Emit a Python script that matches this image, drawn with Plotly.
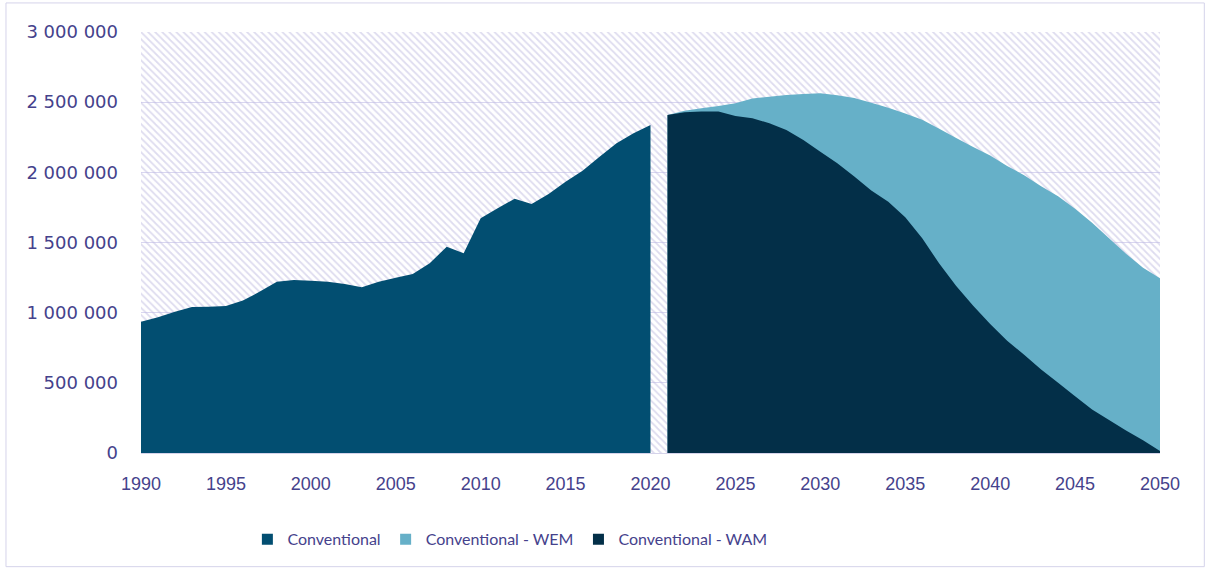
import plotly.graph_objects as go

# ---- data ----
years_hist = list(range(1990, 2021))
conventional = [936000, 967000, 1007000, 1040000, 1043000, 1047000, 1086000, 1150000,
                1221000, 1233000, 1228000, 1221000, 1204000, 1181000, 1221000, 1249000,
                1275000, 1352000, 1470000, 1423000, 1672000, 1744000, 1812000, 1774000,
                1846000, 1933000, 2012000, 2111000, 2207000, 2278000, 2337000]

years_proj = list(range(2021, 2051))
conv_wem = [2409000, 2439000, 2456000, 2473000, 2492000, 2527000, 2539000, 2551000,
            2558000, 2563000, 2550000, 2530000, 2495000, 2460000, 2420000, 2375000,
            2310000, 2245000, 2180000, 2120000, 2045000, 1980000, 1900000, 1830000,
            1740000, 1640000, 1530000, 1420000, 1320000, 1245000]
conv_wam = [2409000, 2428000, 2433000, 2433000, 2402000, 2385000, 2350000, 2302000,
            2230000, 2147000, 2064000, 1970000, 1870000, 1790000, 1680000, 1530000,
            1350000, 1190000, 1050000, 920000, 800000, 700000, 595000, 500000,
            405000, 310000, 235000, 160000, 90000, 15000]

x_ticks = list(range(1990, 2051, 5))
y_ticks = [0, 500000, 1000000, 1500000, 2000000, 2500000, 3000000]
X_RANGE = [1990, 2050]
Y_RANGE = [0, 3000000]

C_CONV = "#024E71"
C_WEM = "#66B0C8"
C_WAM = "#032F48"
TXT = "#45428C"
GRID = "#D9D6F0"

fig = go.Figure()

# hatched plot-area background
fig.add_trace(go.Scatter(
    x=[X_RANGE[0], X_RANGE[1], X_RANGE[1], X_RANGE[0], X_RANGE[0]],
    y=[Y_RANGE[0], Y_RANGE[0], Y_RANGE[1], Y_RANGE[1], Y_RANGE[0]],
    mode="none", fill="toself", fillcolor="rgba(0,0,0,0)",
    fillpattern=dict(shape="\\", fgcolor="#BEBAE0", bgcolor="rgba(0,0,0,0)",
                     size=5, solidity=0.35),
    showlegend=False, hoverinfo="skip"))

fig.add_trace(go.Scatter(x=years_hist, y=conventional, mode="none", fill="tozeroy",
                         fillcolor=C_CONV, showlegend=False, name="Conventional"))
fig.add_trace(go.Scatter(x=years_proj, y=conv_wem, mode="none", fill="tozeroy",
                         fillcolor=C_WEM, showlegend=False, name="Conventional - WEM"))
fig.add_trace(go.Scatter(x=years_proj, y=conv_wam, mode="none", fill="tozeroy",
                         fillcolor=C_WAM, showlegend=False, name="Conventional - WAM"))

# legend entries (square swatches)
for name, col in [("Conventional", C_CONV), ("Conventional - WEM", C_WEM),
                  ("Conventional - WAM", C_WAM)]:
    fig.add_trace(go.Scatter(x=[None], y=[None], mode="markers", name=name,
                             marker=dict(symbol="square", size=11, color=col)))

fig.update_layout(
    width=1211, height=571,
    margin=dict(l=141, r=51, t=32, b=118),
    paper_bgcolor="white", plot_bgcolor="white",
    separators=". ",
    showlegend=True,
    legend=dict(orientation="h", x=0.362, xanchor="center", y=-0.205, yanchor="middle",
                font=dict(family="Lato", size=16, color=TXT),
                itemwidth=30, traceorder="normal", bgcolor="rgba(0,0,0,0)"),
    shapes=[dict(type="rect", xref="paper", yref="paper",
                 x0=-0.1325, x1=1.0435, y0=-0.27, y1=1.069,
                 line=dict(color="#D5D3EA", width=1), fillcolor="rgba(0,0,0,0)",
                 layer="below")],
)

fig.update_xaxes(range=X_RANGE, tickvals=x_ticks, showgrid=False, zeroline=False,
                 showline=True, linecolor="#D5D3EA", linewidth=1,
                 tickfont=dict(family="Liberation Sans Narrow, Liberation Sans", size=18, color=TXT),
                 ticks="", ticklabelstandoff=14)
fig.update_yaxes(range=Y_RANGE, tickvals=y_ticks, tickformat=",d",
                 showgrid=True, gridcolor=GRID, gridwidth=1, zeroline=False,
                 tickfont=dict(family="DejaVu Sans", size=18, color=TXT),
                 ticks="", ticklabelstandoff=22)

fig.write_html("out.html")
